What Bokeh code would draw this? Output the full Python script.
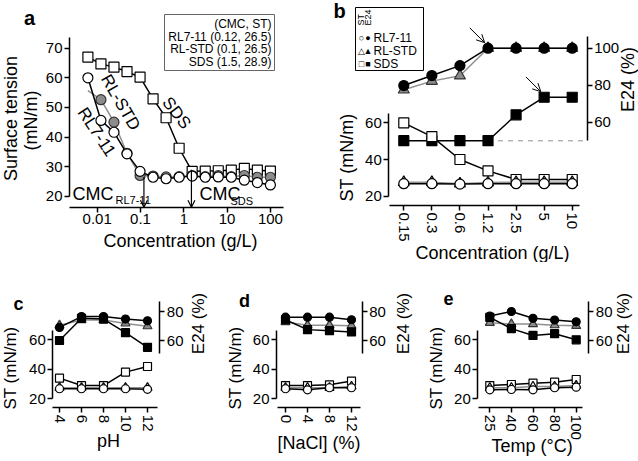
import math
from bokeh.plotting import figure
from bokeh.models import (Range1d, LinearAxis, FixedTicker, Label, Arrow, OpenHead,
                          ColumnDataSource, CDSView, IndexFilter, BoxAnnotation)
from bokeh.layouts import row, column
from bokeh.embed import file_html
from bokeh.resources import INLINE

FONT = "Liberation Sans"
GFILL = "#8c8c8c"
GLINE = "#8f8f8f"
HALF_PI = math.pi / 2

# ---------------- data ----------------
# panel a : surface tension vs concentration (log)
conc_a = [0.0061, 0.0122, 0.0244, 0.0488, 0.0977, 0.195, 0.39, 0.78, 1.56, 3.13, 6.25, 12.5, 25, 50, 100]
st_a_sds = [67.0, 64.7, 63.6, 62.1, 60.2, 52.9, 46.5, 36.2, 28.4, 28.5, 28.6, 28.8, 29.4, 28.8, 28.5]
st_a_rl711 = [60.0, 45.6, 41.6, 34.3, 28.4, 26.4, 25.9, 26.4, 26.8, 26.4, 26.5, 26.4, 25.4, 24.6, 23.8]
st_a_rlstd = [55.7, 52.6, 45.0, 34.5, 27.0, 26.8, 26.5, 26.6, 27.0, 26.6, 27.0, 26.6, 27.0, 26.4, 26.4]
cmc_names = ["RL7-11", "RL-STD", "SDS"]
cmc_vals = [0.12, 0.1, 1.5]
cmc_st = [26.5, 26.5, 28.9]
ticks_a = [0.01, 0.1, 1, 10, 100]
tick_labels_a = ["0.01", "0.1", "1", "10", "100"]
yticks_a = [20, 30, 40, 50, 60, 70]

# panel b : ST and E24 vs concentration
conc_b = ["0.15", "0.3", "0.6", "1.2", "2.5", "5", "10"]
e24_b_rl711 = [79.8, 85.2, 90.6, 100, 100, 100, 100]
e24_b_rlstd = [77.5, 82.2, 85.1, 100, 100, 100, 100]
e24_b_sds = [50, 50, 50, 50, 64.0, 73.5, 73.5]
st_b_rl711 = [26.8, 26.8, 26.6, 26.8, 26.8, 26.8, 26.8]
st_b_rlstd = [27.6, 27.6, 26.8, 27.4, 27.6, 27.6, 27.6]
st_b_sds = [60.0, 52.5, 40.0, 33.8, 29.1, 29.1, 29.1]
st_ticks = [20, 40, 60]
e24_ticks_b = [60, 80, 100]
e24_ticks_small = [60, 80]

# panel c : pH
ph_c = [4, 6, 8, 10, 12]
e24_c_rl711 = [69.0, 76.5, 76.5, 74.8, 73.6]
e24_c_rlstd = [70.5, 74.1, 74.1, 71.8, 69.9]
e24_c_sds = [60.0, 75.3, 74.8, 65.4, 55.3]
st_c_rl711 = [26.8, 26.8, 26.8, 26.8, 26.4]
st_c_rlstd = [27.5, 27.5, 27.5, 27.5, 27.5]
st_c_sds = [34.0, 29.0, 29.0, 38.1, 41.9]

# panel d : NaCl
nacl_d = [0, 4, 8, 12]
e24_d_rl711 = [76.1, 76.1, 76.1, 74.3]
e24_d_rlstd = [72.7, 70.5, 70.5, 70.2]
e24_d_sds = [74.3, 67.5, 66.8, 65.9]
st_d_rl711 = [26.8, 26.1, 27.5, 27.5]
st_d_rlstd = [27.5, 27.5, 27.5, 28.4]
st_d_sds = [29.0, 29.0, 29.5, 32.0]

# panel e : temperature
temp_e = ["25", "40", "60", "80", "100"]
e24_e_rl711 = [76.9, 80.0, 75.3, 74.1, 72.9]
e24_e_rlstd = [72.2, 71.3, 71.3, 70.6, 70.1]
e24_e_sds = [76.0, 68.2, 63.5, 64.7, 60.5]
st_e_rl711 = [26.1, 26.3, 26.1, 27.5, 27.9]
st_e_rlstd = [27.5, 27.5, 28.4, 28.4, 29.0]
st_e_sds = [29.0, 29.7, 30.6, 31.3, 33.1]


# ---------------- helpers ----------------
class Lin:
    """pixel <-> value mapping along one page axis (y grows downward on page)."""
    def __init__(self, ref_px, ref_val, ppu, down=False):
        self.ref_px, self.ref_val, self.ppu, self.down = ref_px, ref_val, ppu, down

    def val(self, px):
        d = (px - self.ref_px) / self.ppu
        return self.ref_val - d if self.down else self.ref_val + d


class Log:
    def __init__(self, ref_px, ref_log, ppd):
        self.ref_px, self.ref_log, self.ppd = ref_px, ref_log, ppd

    def val(self, px):
        return 10 ** (self.ref_log + (px - self.ref_px) / self.ppd)


def make_fig(X0, X1, Y0, Y1, xm, ym, x_axis_type="linear"):
    p = figure(width=X1 - X0, height=Y1 - Y0,
               x_range=Range1d(xm.val(X0), xm.val(X1)),
               y_range=Range1d(ym.val(Y1), ym.val(Y0)),
               x_axis_type=x_axis_type, output_backend="svg", toolbar_location=None,
               min_border_left=0, min_border_right=0, min_border_top=0, min_border_bottom=0)
    p.outline_line_color = None
    p.xgrid.visible = False
    p.ygrid.visible = False
    p.background_fill_color = "white"
    p.border_fill_color = "white"
    return p


def style_axis(ax, loc, bounds, ticks, overrides=None, vertical=False, size="15px"):
    ax.fixed_location = loc
    ax.bounds = bounds
    ax.ticker = FixedTicker(ticks=ticks)
    if overrides:
        ax.major_label_overrides = overrides
    if vertical:
        ax.major_label_orientation = "vertical"
    ax.axis_line_color = "black"
    ax.axis_line_width = 1.5
    ax.major_tick_line_color = "black"
    ax.major_tick_line_width = 1.5
    ax.major_tick_out = 5
    ax.major_tick_in = 0
    ax.minor_tick_line_color = None
    ax.major_label_text_font = FONT
    ax.major_label_text_font_size = size
    ax.major_label_text_color = "black"
    ax.major_label_standoff = 2


def lab(p, geo, text, px, py, size="18px", angle=0.0, align="center",
        baseline="middle", bold=False):
    X0, Y1 = geo
    p.add_layout(Label(x=px - X0, y=Y1 - py, x_units="screen", y_units="screen",
                       text=text, angle=angle, text_align=align, text_baseline=baseline,
                       text_font=FONT, text_font_size=size,
                       text_font_style="bold" if bold else "normal", text_color="black"))


def box(p, geo, left, top, right, bottom, color="black"):
    X0, Y1 = geo
    p.add_layout(BoxAnnotation(left=left - X0, right=right - X0, top=Y1 - top, bottom=Y1 - bottom,
                               left_units="screen", right_units="screen",
                               top_units="screen", bottom_units="screen",
                               fill_color=None, fill_alpha=0, line_color=color, line_width=1,
                               line_alpha=1))


def series(p, x, y, marker, fill, line, size, lw=1.5, mlw=1.2, y_range_name="default",
           marker_line="black"):
    src = ColumnDataSource(dict(x=x, y=y))
    p.line("x", "y", source=src, line_color=line, line_width=lw, y_range_name=y_range_name)
    p.scatter("x", "y", source=src, marker=marker, size=size, fill_color=fill,
              line_color=marker_line, line_width=mlw, y_range_name=y_range_name)


# page layout (px): top row 0..262, bottom row 262..461
TOP, MID, BOT = 0, 262, 461

# ---------------- panel a ----------------
xa = Log(96.7, -2, 43.3)
ya = Lin(47.7, 70, 2.96, down=True)
pa = make_fig(0, 330, TOP, MID, xa, ya, "log")
geo_a = (0, MID)
x_axis_loc_a = ya.val(206.7)
style_axis(pa.yaxis[0], xa.val(69), (20, 73.6), yticks_a)
style_axis(pa.xaxis[0], x_axis_loc_a, (xa.val(68.5), xa.val(282.7)), ticks_a,
           overrides={t: s for t, s in zip(ticks_a, tick_labels_a)})

src_a = ColumnDataSource(dict(x=conc_a, sds=st_a_sds, rl711=st_a_rl711, rlstd=st_a_rlstd))
pa.line("x", "sds", source=src_a, line_color="black", line_width=1.5)
pa.scatter("x", "sds", source=src_a, marker="square", size=10, fill_color="white",
           line_color="black", line_width=1.2)
pa.line("x", "rlstd", source=src_a, line_color=GLINE, line_width=1.5)
pa.scatter("x", "rlstd", source=src_a, view=CDSView(filter=IndexFilter(list(range(1, len(conc_a))))),
           marker="circle", size=10, fill_color=GFILL, line_color="#333333", line_width=1.2)
pa.line("x", "rl711", source=src_a, line_color="black", line_width=1.5)
pa.scatter("x", "rl711", source=src_a, marker="circle", size=10, fill_color="white",
           line_color="black", line_width=1.2)

for i in (0, 2):
    pa.add_layout(Arrow(end=OpenHead(size=7, line_width=1.2, line_color="black"),
                        x_start=cmc_vals[i], y_start=cmc_st[i], x_end=cmc_vals[i], y_end=x_axis_loc_a,
                        line_width=1.2, line_color="black"))

for txt, x, y, ang in [("RL-STD", 0.0345, 51.7, -1.05), ("RL7-11", 0.00964, 41.7, -0.99),
                       ("SDS", 0.678, 48.1, -0.91)]:
    pa.add_layout(Label(x=x, y=y, text=txt, angle=ang, text_align="center", text_baseline="middle",
                        text_font=FONT, text_font_size="17px", text_color="black"))

legend_a = ["(CMC, ST)"] + [f"{n} ({v}, {s})" for n, v, s in zip(cmc_names, cmc_vals, cmc_st)]
box(pa, geo_a, 164, 14, 274, 70, color="#666666")
for txt, yy in zip(legend_a, [23.3, 36, 48.5, 61]):
    lab(pa, geo_a, txt, 271, yy, size="12px", align="right")

lab(pa, geo_a, "a", 29, 17, size="20px", bold=True)
lab(pa, geo_a, "Surface tension", 10, 118, angle=HALF_PI)
lab(pa, geo_a, "(mN/m)", 30, 120, angle=HALF_PI)
lab(pa, geo_a, "Concentration (g/L)", 180, 240)
lab(pa, geo_a, "CMC", 72, 193, align="left")
lab(pa, geo_a, "RL7-11", 115, 199, size="11px", align="left")
lab(pa, geo_a, "CMC", 199, 193, align="left")
lab(pa, geo_a, "SDS", 230, 200, size="11px", align="left")

# ---------------- panel b ----------------
xbm = Lin(403.3, 0, 28.07)
st_b = Lin(195.7, 20, 1.835, down=True)
e_b = Lin(47.7, 100, 1.85, down=True)
pb = make_fig(330, 638, TOP, MID, xbm, st_b)
pb.extra_y_ranges = {"e24": Range1d(e_b.val(MID), e_b.val(TOP))}
geo_b = (330, MID)
style_axis(pb.yaxis[0], xbm.val(388.3), (20, 65), st_ticks)
rax = LinearAxis(y_range_name="e24")
style_axis(rax, xbm.val(586.7), (50, 106.5), e24_ticks_b)
pb.add_layout(rax, "right")
xb = list(range(len(conc_b)))
style_axis(pb.xaxis[0], st_b.val(205), (xbm.val(389), xbm.val(579)), xb,
           overrides={i: s for i, s in zip(xb, conc_b)}, vertical=True)

i12 = conc_b.index("1.2")
i5 = conc_b.index("5")
pb.segment(x0=[xb[i12]], y0=[e24_b_sds[i12]], x1=[xbm.val(586.7)], y1=[e24_b_sds[i12]],
           y_range_name="e24", line_color="#b5b5b5", line_dash="5 5", line_width=1.5)
series(pb, xb, e24_b_rlstd, "triangle", GFILL, GLINE, 11, y_range_name="e24", marker_line="#333333")
series(pb, xb, e24_b_rl711, "circle", "black", "black", 10, y_range_name="e24")
series(pb, xb, e24_b_sds, "square", "black", "black", 10, y_range_name="e24")
series(pb, xb, st_b_sds, "square", "white", "black", 10)
series(pb, xb, st_b_rlstd, "triangle", "white", GLINE, 11)
series(pb, xb, st_b_rl711, "circle", "white", "black", 10)

for tx, ty in [(xb[i12], e24_b_rl711[i12]), (xb[i5], e24_b_sds[i5])]:
    pb.add_layout(Arrow(end=OpenHead(size=8, line_width=1, line_color="black"),
                        x_start=tx - 0.65, y_start=ty + 11, x_end=tx - 0.12, y_end=ty + 3,
                        y_range_name="e24", line_width=1, line_color="black"))

box(pb, geo_b, 355, 7, 423, 70)
lab(pb, geo_b, "ST", 360.5, 25, size="9px", angle=HALF_PI, align="left")
lab(pb, geo_b, "E24", 367, 25, size="9px", angle=HALF_PI, align="left")
for (o, f), name, yy in zip([("○", "●"), ("△", "▲"), ("□", "■")], cmc_names, [37, 50.5, 63.5]):
    lab(pb, geo_b, o, 361, yy, size="9px")
    lab(pb, geo_b, f, 367.5, yy, size="9px")
    lab(pb, geo_b, name, 373, yy, size="12px", align="left")

lab(pb, geo_b, "b", 339, 10, size="20px", bold=True)
lab(pb, geo_b, "ST (mN/m)", 346.5, 157, angle=HALF_PI)
lab(pb, geo_b, "E24 (%)", 627, 79, angle=HALF_PI)
lab(pb, geo_b, "Concentration (g/L)", 492, 252)


# ---------------- panels c, d, e ----------------
st_s = Lin(339.3, 60, 1.475, down=True)
e_s = Lin(340, 60, 1.45, down=True)


def small_panel(X0, X1, xm, left_px, right_px, xb_px, xvals, overrides,
                e_rl, e_std, e_sds, s_rl, s_std, s_sds,
                xlabel, xlabel_xy, letter, letter_xy, st_x, e24_x):
    p = make_fig(X0, X1, MID, BOT, xm, st_s)
    p.extra_y_ranges = {"e24": Range1d(e_s.val(BOT), e_s.val(MID))}
    geo = (X0, BOT)
    style_axis(p.yaxis[0], xm.val(left_px), (20, 66), st_ticks)
    r = LinearAxis(y_range_name="e24")
    style_axis(r, xm.val(right_px), (51, 87), e24_ticks_small)
    p.add_layout(r, "right")
    style_axis(p.xaxis[0], st_s.val(407.3), (xm.val(xb_px[0]), xm.val(xb_px[1])), xvals,
               overrides=overrides, vertical=True)
    series(p, xvals, e_std, "triangle", GFILL, GLINE, 9, y_range_name="e24", marker_line="#333333")
    series(p, xvals, e_sds, "square", "black", "black", 8, y_range_name="e24")
    series(p, xvals, e_rl, "circle", "black", "black", 8, y_range_name="e24")
    series(p, xvals, s_sds, "square", "white", "black", 8)
    series(p, xvals, s_std, "triangle", "white", GLINE, 9)
    series(p, xvals, s_rl, "circle", "white", "black", 8)
    lab(p, geo, letter, letter_xy[0], letter_xy[1], size="18px", bold=True)
    lab(p, geo, "ST (mN/m)", st_x, 367.5, size="17px", angle=HALF_PI)
    lab(p, geo, "E24 (%)", e24_x, 323, size="17px", angle=HALF_PI)
    lab(p, geo, xlabel, xlabel_xy[0], xlabel_xy[1])
    return p


pc = small_panel(0, 215, Lin(59, 4, 11), 52.3, 159.3, (51.7, 156.7), ph_c, None,
                 e24_c_rl711, e24_c_rlstd, e24_c_sds, st_c_rl711, st_c_rlstd, st_c_sds,
                 "pH", (108, 440), "c", (18, 303), 10, 197.5)
pd_ = small_panel(215, 422, Lin(285, 0, 5.5), 276, 361.7, (277, 360), nacl_d, None,
                  e24_d_rl711, e24_d_rlstd, e24_d_sds, st_d_rl711, st_d_rlstd, st_d_sds,
                  "[NaCl] (%)", (318.5, 442), "d", (244, 300), 235, 402.5)
xe = list(range(len(temp_e)))
pe = small_panel(422, 638, Lin(489.3, 0, 21.6), 477.3, 588.3, (478, 581.7), xe,
                 {i: s for i, s in zip(xe, temp_e)},
                 e24_e_rl711, e24_e_rlstd, e24_e_sds, st_e_rl711, st_e_rlstd, st_e_sds,
                 "Temp (°C)", (531.7, 445), "e", (448, 298), 436, 622.5)

layout = column(row(pa, pb), row(pc, pd_, pe))
open("out.html", "w").write(file_html(layout, INLINE))
